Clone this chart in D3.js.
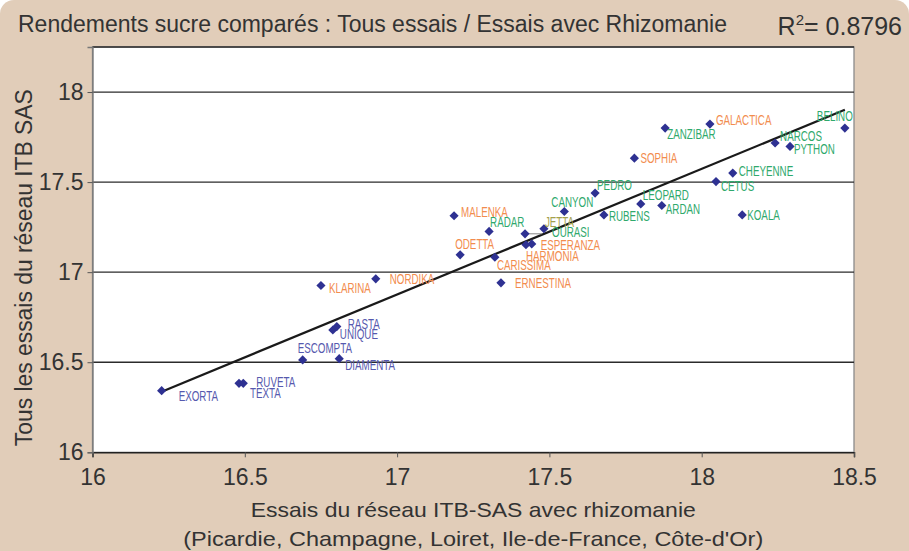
<!DOCTYPE html>
<html>
<head>
<meta charset="utf-8">
<script src="https://cdn.jsdelivr.net/npm/d3@7"></script>
<style>
  body { margin: 0; background: #ffffff; }
  svg { display: block; font-family: "Liberation Sans", Arial, sans-serif; }
</style>
</head>
<body>
<svg id="chart" width="909" height="551"></svg>
<script>
// Varieties and yields (t sucre/ha)
const varieties = ["EXORTA", "TEXTA", "RUVETA", "ESCOMPTA", "DIAMENTA", "UNIQUE", "RASTA",
  "KLARINA", "NORDIKA", "MALENKA", "ODETTA", "RADAR", "CARISSIMA", "ERNESTINA", "OURASI",
  "JETTA", "HARMONIA", "ESPERANZA", "CANYON", "PEDRO", "RUBENS", "LEOPARD", "ARDAN", "SOPHIA",
  "ZANZIBAR", "GALACTICA", "CETUS", "CHEYENNE", "KOALA", "NARCOS", "PYTHON", "BELINO"];

// x: essais avec rhizomanie
const rhizoYield = [16.227, 16.481, 16.495, 16.690, 16.810, 16.789, 16.802,
  16.750, 16.930, 17.187, 17.207, 17.302, 17.321, 17.341, 17.420,
  17.482, 17.423, 17.442, 17.549, 17.650, 17.679, 17.800, 17.869, 17.779,
  17.880, 18.027, 18.047, 18.102, 18.133, 18.241, 18.290, 18.470];

// y: tous essais
const allTrialsYield = [16.342, 16.383, 16.383, 16.513, 16.520, 16.679, 16.698,
  16.926, 16.963, 17.313, 17.096, 17.226, 17.083, 16.941, 17.213,
  17.241, 17.152, 17.157, 17.337, 17.439, 17.318, 17.379, 17.370, 17.633,
  17.800, 17.822, 17.503, 17.550, 17.318, 17.717, 17.698, 17.800];

// label colour group of each variety
const groups = ["blue", "blue", "blue", "blue", "blue", "blue", "blue",
  "orange", "orange", "orange", "orange", "green", "orange", "orange", "green",
  "olive", "orange", "orange", "green", "green", "green", "green", "green", "orange",
  "green", "orange", "green", "green", "green", "green", "green", "green"];

const xTicks = [16, 16.5, 17, 17.5, 18, 18.5];
const yTicks = [16, 16.5, 17, 17.5, 18];

// trend line
const trendSlope = 0.6977;
const trendIntercept = 5.015;
const r2Value = "0.8796";

// label placement (px offsets from the point), layout only
const labelOffsets = [[17, 10], [11, 15], [13, 4], [-5, -7], [6, 11], [7, 9], [11, 2],
  [8, 8], [14, 5], [7, 1], [-5, -6], [1, -4], [2, 13], [14, 5], [27, 3],
  [1, -2], [0, 16], [9, 6], [-13, -4], [2, -3], [5, 6], [2, -4], [4, 8], [6, 5],
  [2, 11], [6, 1], [5, 9], [6, 3], [5, 5], [5, -2], [4, 8], [-28, -7]];

const colors = { blue: "#5659ae", orange: "#f28c4e", green: "#2fa96c", olive: "#a4a14c" };

const svg = d3.select("#chart");
const W = 909, H = 551;
const margin = { top: 47, right: 55, bottom: 98.7, left: 92.5 };

// Beige frame with rounded corners
svg.append("rect")
  .attr("x", 0).attr("y", 0)
  .attr("width", W).attr("height", H + 20)
  .attr("rx", 14).attr("ry", 14)
  .attr("fill", "#e1cdb9");

const x = d3.scaleLinear().domain([16, 18.5]).range([margin.left, W - margin.right]);
const y = d3.scaleLinear().domain([16, 18.25]).range([H - margin.bottom, margin.top]);

// Plot area
svg.append("rect")
  .attr("x", x(16)).attr("y", y(18.25))
  .attr("width", x(18.5) - x(16)).attr("height", y(16) - y(18.25))
  .attr("fill", "#ffffff")
  .attr("stroke", "#8a8a8a").attr("stroke-width", 1.3);

// Horizontal grid lines
svg.append("g")
  .selectAll("line")
  .data(yTicks.slice(1).concat([18.25]))
  .join("line")
  .attr("x1", x(16)).attr("x2", x(18.5))
  .attr("y1", d => y(d)).attr("y2", d => y(d))
  .attr("stroke", "#2b2b2b").attr("stroke-width", 1.3);

// Axes
const xAxis = svg.append("g")
  .attr("transform", `translate(0,${y(16)})`)
  .call(d3.axisBottom(x).tickValues(xTicks).tickFormat(d3.format("")).tickSize(5).tickPadding(11));
xAxis.select(".domain").attr("stroke", "#222").attr("stroke-width", 1.5);
xAxis.selectAll(".tick line").attr("stroke", "#555");
xAxis.selectAll(".tick text")
  .style("font-size", "23px").attr("fill", "#333");

const yAxis = svg.append("g")
  .attr("transform", `translate(${x(16)},0)`)
  .call(d3.axisLeft(y).tickValues(yTicks).tickFormat(d3.format("")).tickSize(5).tickPadding(4));
yAxis.select(".domain").attr("stroke", "#777").attr("stroke-width", 1.3);
yAxis.selectAll(".tick line").attr("stroke", "#555");
yAxis.selectAll(".tick text")
  .style("font-size", "23px").attr("fill", "#333");

// Trend line
const xMin = d3.min(rhizoYield), xMax = d3.max(rhizoYield);
svg.append("line")
  .attr("x1", x(xMin)).attr("y1", y(trendIntercept + trendSlope * xMin))
  .attr("x2", x(xMax)).attr("y2", y(trendIntercept + trendSlope * xMax))
  .attr("stroke", "#1a1a1a").attr("stroke-width", 2.2);

// Leader line for OURASI
const iO = varieties.indexOf("OURASI");
svg.append("line")
  .attr("x1", x(rhizoYield[iO])).attr("y1", y(allTrialsYield[iO]))
  .attr("x2", x(rhizoYield[iO]) + 17).attr("y2", y(allTrialsYield[iO]))
  .attr("stroke", "#888").attr("stroke-width", 1);

// Points
const diamond = d3.symbol(d3.symbolSquare, 42);
svg.append("g")
  .selectAll("path")
  .data(varieties)
  .join("path")
  .attr("d", diamond)
  .attr("transform", (d, i) => `translate(${x(rhizoYield[i])},${y(allTrialsYield[i])}) rotate(45)`)
  .attr("fill", "#2e3192");

// Variety labels (condensed look)
svg.append("g")
  .selectAll("text")
  .data(varieties)
  .join("text")
  .attr("transform", (d, i) =>
    `translate(${x(rhizoYield[i]) + labelOffsets[i][0]},${y(allTrialsYield[i]) + labelOffsets[i][1]}) scale(0.7,1)`)
  .attr("fill", (d, i) => colors[groups[i]])
  .style("font-size", "14px")
  .text(d => d);

// Title
svg.append("text")
  .attr("x", 18).attr("y", 32)
  .attr("textLength", 709).attr("lengthAdjust", "spacingAndGlyphs")
  .attr("fill", "#333")
  .style("font-size", "23px")
  .text("Rendements sucre comparés : Tous essais / Essais avec Rhizomanie");

// R²
const r2 = svg.append("text")
  .attr("x", 902).attr("y", 35)
  .attr("text-anchor", "end")
  .attr("fill", "#333")
  .style("font-size", "25px");
r2.append("tspan").text("R");
r2.append("tspan").attr("dy", -10).style("font-size", "15px").text("2");
r2.append("tspan").attr("dy", 10).text("= " + r2Value);

// Axis titles
const cx = (x(16) + x(18.5)) / 2;
svg.append("text")
  .attr("x", cx).attr("y", 517)
  .attr("text-anchor", "middle")
  .attr("textLength", 445).attr("lengthAdjust", "spacingAndGlyphs")
  .attr("fill", "#333")
  .style("font-size", "21px")
  .text("Essais du réseau ITB-SAS avec rhizomanie");

svg.append("text")
  .attr("x", cx).attr("y", 546)
  .attr("text-anchor", "middle")
  .attr("textLength", 580).attr("lengthAdjust", "spacingAndGlyphs")
  .attr("fill", "#333")
  .style("font-size", "21px")
  .text("(Picardie, Champagne, Loiret, Ile-de-France, Côte-d'Or)");

svg.append("text")
  .attr("transform", `translate(32,${(y(16) + y(18.25)) / 2 + 18}) rotate(-90)`)
  .attr("text-anchor", "middle")
  .attr("textLength", 357).attr("lengthAdjust", "spacingAndGlyphs")
  .attr("fill", "#333")
  .style("font-size", "23px")
  .text("Tous les essais du réseau ITB SAS");
</script>
</body>
</html>
